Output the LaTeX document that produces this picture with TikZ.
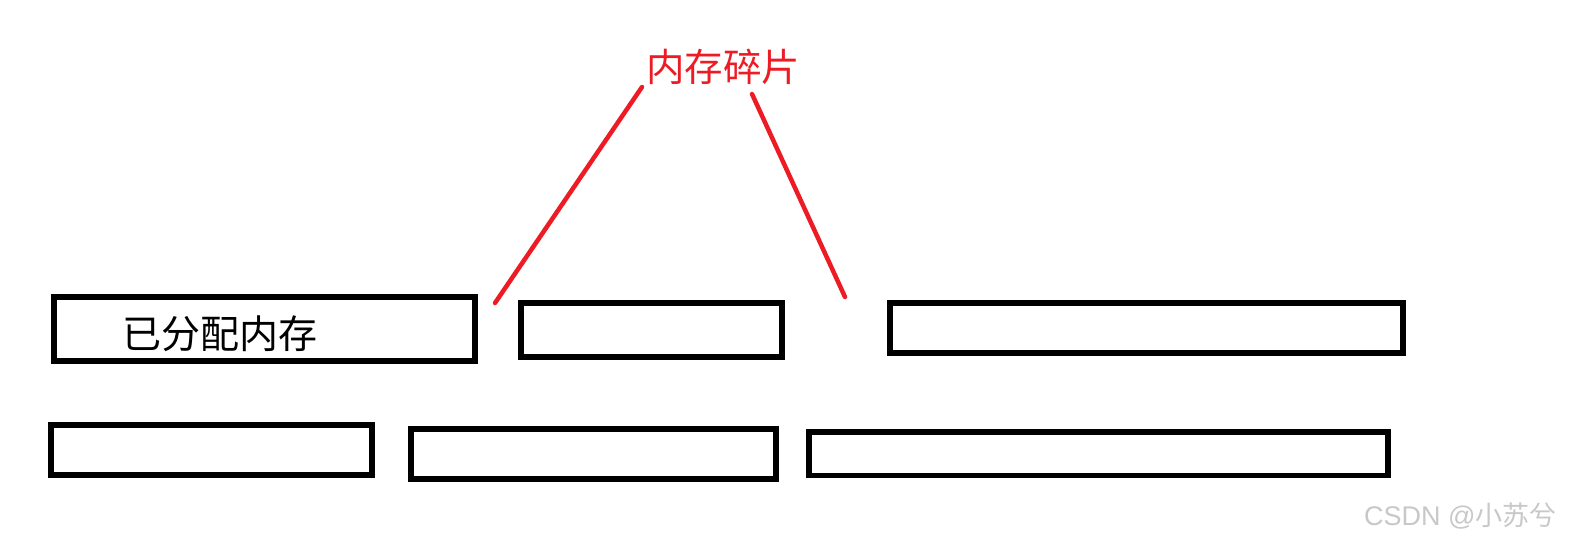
\documentclass[tikz,border=0pt]{standalone}
\usepackage{fontspec}
\newfontfamily\cjk{Noto Sans CJK SC}
\newfontfamily\lat{Liberation Sans}
\definecolor{fragred}{RGB}{237,28,36}
\definecolor{wmgray}{RGB}{200,200,200}
\tikzset{
  membox/.style={draw=black, line width=5.8pt, fill=white, inner sep=0pt, rectangle},
  fragline/.style={draw=fragred, line width=4.5pt, line cap=round},
}
\begin{document}
\begin{tikzpicture}[x=1pt,y=-1pt]
\useasboundingbox (0,0) rectangle (1573,545);
% top row
\node[membox, minimum width=421pt, minimum height=64pt] (b1) at (264.5,329) {};
\node[membox, minimum width=261pt, minimum height=54pt] (b2) at (651.5,330) {};
\node[membox, minimum width=513pt, minimum height=50pt] (b3) at (1146.5,328) {};
% bottom row
\node[membox, minimum width=321pt, minimum height=50.5pt] (b4) at (211.5,450) {};
\node[membox, minimum width=365pt, minimum height=50pt] (b5) at (593.5,454) {};
\node[membox, minimum width=579pt, minimum height=43.5pt] (b6) at (1098.5,453.75) {};
% label in first box
\node[font=\cjk\fontsize{39pt}{41pt}\selectfont, inner sep=0pt] (lbl) at (220,334) {已分配内存};
% fragment label
\node[font=\cjk\fontsize{38.5pt}{40pt}\selectfont, text=fragred, inner sep=0pt] (frag) at (723,67) {内存碎片};
\coordinate (fa) at (642,87);
\coordinate (fb) at (752,94);
\coordinate (ga) at (495,303);
\coordinate (gb) at (845,297);
\draw[fragline] (fa) -- (ga);
\draw[fragline] (fb) -- (gb);
% watermark
\node[font=\fontsize{27pt}{29pt}\selectfont, text=wmgray, inner sep=0pt, anchor=west] (wm) at (1364,516) {{\lat CSDN @}{\cjk 小苏兮}};
\end{tikzpicture}
\end{document}
